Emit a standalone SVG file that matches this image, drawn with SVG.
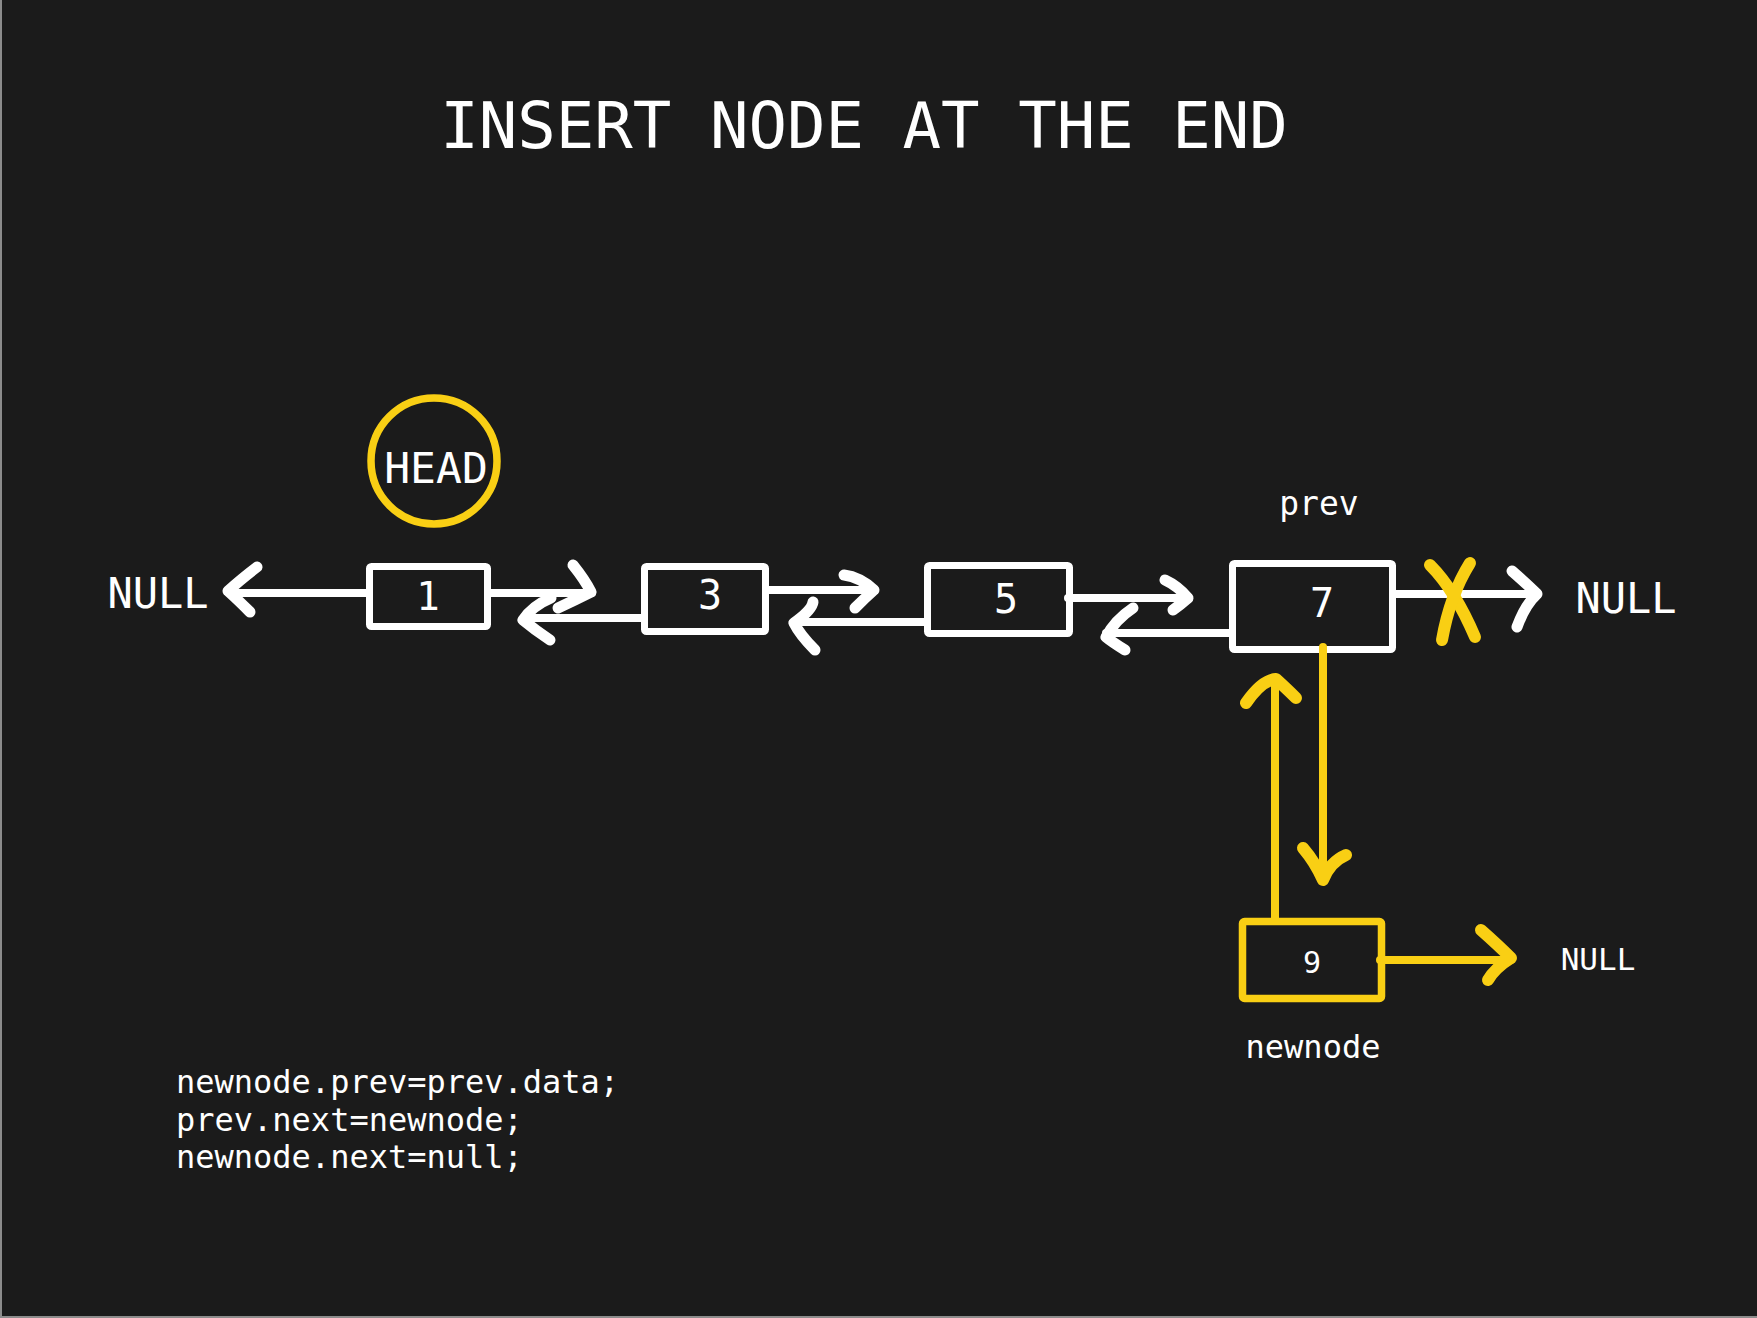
<svg xmlns="http://www.w3.org/2000/svg" width="1757" height="1318" viewBox="0 0 1757 1318">
  <style>
    .txt { font-family: "DejaVu Sans Mono", "Liberation Mono", monospace; fill: #ffffff; }
    .mid { text-anchor: middle; }
    .box { fill: none; stroke: #ffffff; stroke-width: 7; stroke-linejoin: round; }
    .box-y { fill: none; stroke: #f9cf14; stroke-width: 7.5; stroke-linejoin: round; }
    .ln { fill: none; stroke: #ffffff; stroke-width: 8; stroke-linecap: round; }
    .hd { fill: none; stroke: #ffffff; stroke-width: 11; stroke-linecap: round; stroke-linejoin: round; }
    .ln-y { fill: none; stroke: #f9cf14; stroke-width: 8; stroke-linecap: round; }
    .hd-y { fill: none; stroke: #f9cf14; stroke-width: 12; stroke-linecap: round; stroke-linejoin: round; }
  </style>

  <!-- backdrop with thin frame on left and bottom -->
  <rect x="0" y="0" width="1757" height="1318" fill="#1b1b1b"/>
  <rect x="0" y="0" width="2" height="1318" fill="#8c8c8c"/>
  <rect x="0" y="1316" width="1757" height="2" fill="#8c8c8c"/>

  <text class="txt mid" x="864" y="148" font-size="64">INSERT NODE AT THE END</text>

  <!-- head marker -->
  <g id="head">
    <circle cx="434" cy="461" r="63" fill="none" stroke="#f9cf14" stroke-width="7.5"/>
    <text class="txt mid" x="436" y="483" font-size="43">HEAD</text>
  </g>

  <g id="null-left"><text class="txt mid" x="158" y="608" font-size="42">NULL</text></g>
  <g id="null-right"><text class="txt mid" x="1626" y="613" font-size="42">NULL</text></g>
  <g id="null-new"><text class="txt mid" x="1598" y="970" font-size="31">NULL</text></g>

  <g id="node-1">
    <rect class="box" x="369.5" y="566.5" width="118" height="60" rx="2"/>
    <text class="txt mid" x="428" y="610" font-size="39">1</text>
  </g>
  <g id="node-3">
    <rect class="box" x="644.5" y="566.5" width="121" height="65" rx="2"/>
    <text class="txt mid" x="710" y="609" font-size="40">3</text>
  </g>
  <g id="node-5">
    <rect class="box" x="927.5" y="565.5" width="142" height="68" rx="2"/>
    <text class="txt mid" x="1006" y="613" font-size="40">5</text>
  </g>
  <g id="node-7">
    <text class="txt mid" x="1319" y="515" font-size="33">prev</text>
    <rect class="box" x="1232.5" y="563.5" width="160" height="86" rx="2"/>
    <text class="txt mid" x="1322" y="617" font-size="40">7</text>
  </g>
  <g id="node-9">
    <rect class="box-y" x="1242.5" y="921.5" width="139" height="77" rx="2"/>
    <text class="txt mid" x="1312" y="973" font-size="30">9</text>
    <text class="txt mid" x="1313" y="1058" font-size="32">newnode</text>
  </g>

  <g id="connectors">
    <!-- 1 -> NULL -->
    <path class="ln" d="M366,593 L230,593"/>
    <path class="hd" d="M257,567 Q240,580 228,591 Q238,600 250,612"/>
    <!-- 1 -> 3 -->
    <path class="ln" d="M491,593 L592,593"/>
    <path class="hd" d="M573,565 Q585,580 591,592 Q575,600 558,608"/>
    <!-- 3 -> 1 -->
    <path class="ln" d="M641,618 L524,618"/>
    <path class="hd" d="M551,598 Q532,606 523,620 Q535,630 550,640"/>
    <!-- 3 -> 5 -->
    <path class="ln" d="M769,590 L874,590"/>
    <path class="hd" d="M844,575 Q860,577 874,590 Q865,598 855,608"/>
    <!-- 5 -> 3 -->
    <path class="ln" d="M924,622 L794,622"/>
    <path class="hd" d="M813,602 Q812,610 794,623 Q800,635 815,650"/>
    <!-- 5 -> 7 -->
    <path class="ln" d="M1068,598 L1188,598"/>
    <path class="hd" d="M1165,580 Q1178,586 1188,598 Q1180,605 1173,610"/>
    <!-- 7 -> 5 -->
    <path class="ln" d="M1229,633 L1106,633"/>
    <path class="hd" d="M1133,608 Q1115,620 1106,637 Q1112,642 1125,650"/>
    <!-- 7 -> NULL (crossed out) -->
    <path class="ln" d="M1396,594 L1537,594"/>
    <path class="hd" d="M1512,571 Q1528,585 1537,594 Q1525,605 1517,627"/>
    <path class="hd-y" d="M1430,565 Q1455,590 1475,637"/>
    <path class="hd-y" d="M1470,563 Q1450,595 1442,640"/>
    <!-- 7 -> 9 -->
    <path class="ln-y" d="M1323,647 L1323,880"/>
    <path class="hd-y" d="M1303,848 Q1315,862 1323,880 Q1330,862 1346,855"/>
    <!-- 9 -> 7 -->
    <path class="ln-y" d="M1275,918 L1275,680"/>
    <path class="hd-y" d="M1246,703 Q1262,680 1276,679 Q1288,690 1296,698"/>
    <!-- 9 -> NULL -->
    <path class="ln-y" d="M1380,960 L1511,960"/>
    <path class="hd-y" d="M1481,930 Q1498,945 1511,958 Q1495,968 1488,980"/>
  </g>

  <g id="code">
    <text class="txt" x="176" y="1093" font-size="32">newnode.prev=prev.data;</text>
    <text class="txt" x="176" y="1131" font-size="32">prev.next=newnode;</text>
    <text class="txt" x="176" y="1168" font-size="32">newnode.next=null;</text>
  </g>
</svg>
